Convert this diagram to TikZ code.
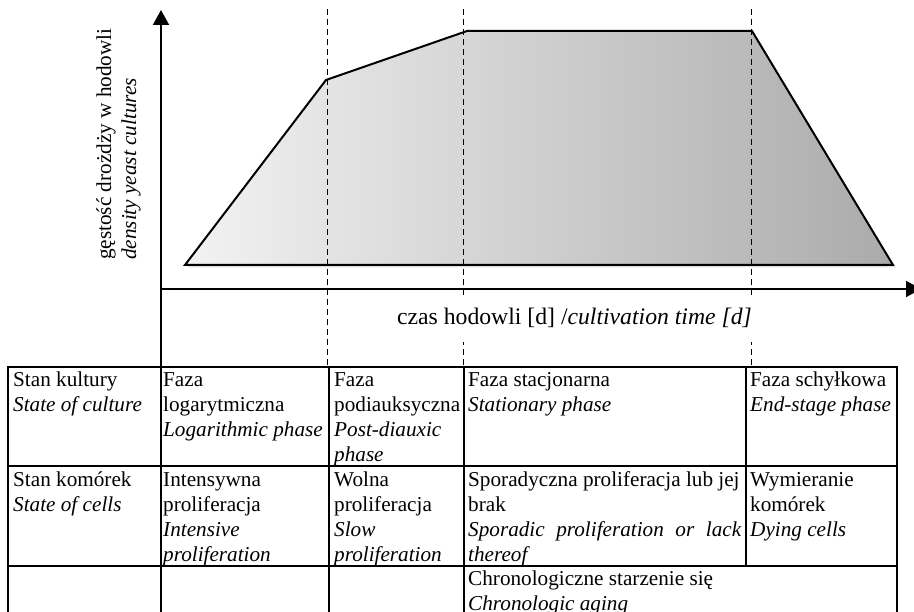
\documentclass[tikz,border=0pt]{standalone}
\usepackage{fontspec}
\setmainfont{Liberation Serif}
\usetikzlibrary{arrows.meta}
\begin{document}
\begin{tikzpicture}[x=1pt,y=-1pt,
  axis/.style={line width=2pt},
  guide/.style={line width=1pt, dash pattern=on 6pt off 4pt},
  gridline/.style={line width=2pt},
  cell/.style={anchor=north west, inner sep=0pt, align=left, font=\fontsize{21.2}{25}\selectfont},
  tip/.style={-{Triangle[width=16pt,length=15pt]}},
]
\useasboundingbox (0,0) rectangle (914,612);
\clip (0,0) rectangle (914,612);
\fill[white] (0,0) rectangle (914,612);

% coordinates
\coordinate (ybot) at (161,367);
\coordinate (ytop) at (161,10);
\coordinate (xl) at (161,289);
\coordinate (xr) at (921,289);
\coordinate (p1) at (185,265);
\coordinate (p2) at (326,80);
\coordinate (p3) at (467,31);
\coordinate (p4) at (752,31);
\coordinate (p5) at (893,265);

% shadow and curve area
\fill[black!30, opacity=0.4] ([shift={(2.5,2.5)}]p1) -- ([shift={(2.5,2.5)}]p2) -- ([shift={(2.5,2.5)}]p3) -- ([shift={(2.5,2.5)}]p4) -- ([shift={(2.5,2.5)}]p5) -- cycle;
\shade[left color=black!5, middle color=black!24, right color=black!33] (p1) -- (p2) -- (p3) -- (p4) -- (p5) -- cycle;
\draw[line width=2pt, line join=miter] (p1) -- (p2) -- (p3) -- (p4) -- (p5) -- cycle;

% dashed guides
\coordinate (d1t) at (327,9);  \coordinate (d1b) at (327,367);
\coordinate (d2t) at (463,9);  \coordinate (d2b) at (463,367);
\coordinate (d3t) at (751,9);  \coordinate (d3b) at (751,367);
\draw[guide] (d1t) -- (d1b);
\draw[guide] (d2t) -- (d2b);
\draw[guide] (d3t) -- (d3b);

% axes
\draw[axis, tip] (ybot) -- (ytop);
\draw[axis, tip] (xl) -- (xr);

% axis labels
\node[rotate=90, anchor=north west, inner sep=0pt, align=left, font=\fontsize{21.2}{25}\selectfont] (ylab) at (93.5,260)
  {\strut gęstość drożdży w hodowli\\\textit{density yeast cultures}};
\node[anchor=center, fill=white, inner xsep=12pt, inner ysep=0pt, text height=17pt, text depth=5pt, minimum height=46pt, font=\fontsize{23.7}{28}\selectfont] (xlab) at (574.5,319)
  {czas hodowli [d] /\textit{cultivation time [d]}};

% table grid
\coordinate (t0l) at (8,367);   \coordinate (t0r) at (897,367);
\coordinate (t1l) at (8,466);   \coordinate (t1r) at (897,466);
\coordinate (t2l) at (8,566);   \coordinate (t2r) at (897,566);
\draw[gridline] (t0l) -- (t0r);
\draw[gridline] (t1l) -- (t1r);
\draw[gridline] (t2l) -- (t2r);
\coordinate (v1t) at (8,366);   \coordinate (v1b) at (8,620);
\coordinate (v2t) at (161,366); \coordinate (v2b) at (161,620);
\coordinate (v3t) at (329,366); \coordinate (v3b) at (329,620);
\coordinate (v4t) at (464,366); \coordinate (v4b) at (464,620);
\coordinate (v5t) at (746,366); \coordinate (v5b) at (746,567);
\coordinate (v6t) at (897,366); \coordinate (v6b) at (897,620);
\draw[gridline] (v1t) -- (v1b);
\draw[gridline] (v2t) -- (v2b);
\draw[gridline] (v3t) -- (v3b);
\draw[gridline] (v4t) -- (v4b);
\draw[gridline] (v5t) -- (v5b);
\draw[gridline] (v6t) -- (v6b);

% table cells
\node[cell] (r1c1) at (13,369) {\strut Stan kultury\\\textit{State of culture}};
\node[cell] (r1c2) at (163,369) {\strut Faza\\logarytmiczna\\\textit{Logarithmic phase}};
\node[cell] (r1c3) at (334,369) {\strut Faza\\podiauksyczna\\\textit{Post-diauxic}\\\textit{phase}};
\node[cell] (r1c4) at (468,369) {\strut Faza stacjonarna\\\textit{Stationary phase}};
\node[cell] (r1c5) at (750,369) {\strut Faza schyłkowa\\\textit{End-stage phase}};

\node[cell] (r2c1) at (13,468.5) {\strut Stan komórek\\\textit{State of cells}};
\node[cell] (r2c2) at (163,468.5) {\strut Intensywna\\proliferacja\\\textit{Intensive}\\\textit{proliferation}};
\node[cell] (r2c3) at (334,468.5) {\strut Wolna\\proliferacja\\\textit{Slow}\\\textit{proliferation}};
\node[cell] (r2c4) at (468,468.5) {\strut Sporadyczna proliferacja lub jej\\brak\\\makebox[273pt][s]{\itshape Sporadic proliferation or lack}\\\textit{thereof}};
\node[cell] (r2c5) at (750,468.5) {\strut Wymieranie\\komórek\\\textit{Dying cells}};

\node[cell] (r3c4) at (468,567.5) {\strut Chronologiczne starzenie się\\\textit{Chronologic aging}};
\end{tikzpicture}
\end{document}
